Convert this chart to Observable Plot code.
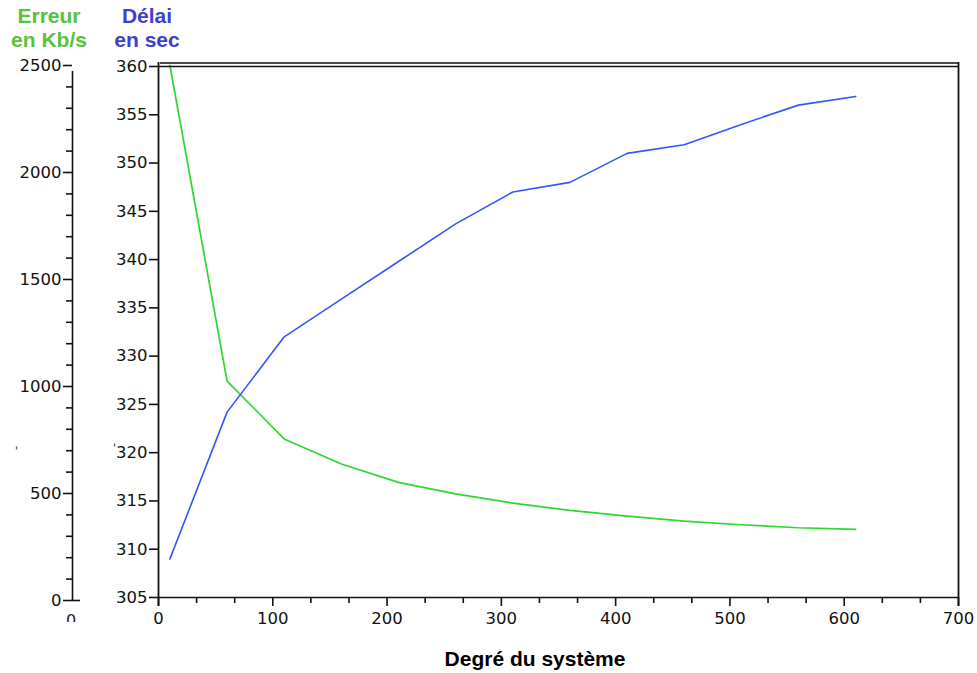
<!DOCTYPE html>
<html><head><meta charset="utf-8">
<script src="https://cdn.jsdelivr.net/npm/d3@7"></script>
<script src="https://cdn.jsdelivr.net/npm/@observablehq/plot@0.6"></script>
<style>
body{margin:0;background:#fff;}
#wrap{position:relative;width:977px;height:673px;overflow:hidden;}
#wrap svg{position:absolute;left:0;top:0;}
.lab{position:absolute;font-family:"Liberation Sans",Arial,sans-serif;font-weight:bold;font-size:21px;line-height:24px;text-align:center;white-space:nowrap;}
.art{position:absolute;font-family:"DejaVu Sans",sans-serif;font-size:12px;color:#333;}
</style></head><body>
<div id="wrap">
  <div class="lab" style="left:0;width:98px;top:4px;color:#55c33b">Erreur<br>en Kb/s</div>
  <div class="lab" style="left:106px;width:82px;top:4px;color:#4040cc">Délai<br>en sec</div>
  <div class="lab" style="left:358px;width:354px;top:647px;color:#000">Degré du système</div>
  <div class="art" style="left:15px;top:441px;transform:rotate(90deg)">-</div>
  <div class="art" style="left:113px;top:438px;transform:rotate(90deg)">-</div>
  <div class="art" style="left:66px;top:612px;height:10px;overflow:hidden;font-size:16px;line-height:18px;color:#222">0</div>
</div>
<script>
// Data
const degre  = [10, 60, 110, 160, 210, 260, 310, 360, 410, 460, 510, 560, 610];
const erreur = [2500, 1025, 755, 638, 552, 498, 455, 421, 394, 371, 354, 340, 332];   // Kb/s (left axis)
const delai  = [309.0, 324.2, 332.0, 335.9, 339.8, 343.7, 347.0, 348.0, 351.0, 351.9, 354.0, 356.0, 356.9]; // sec (right axis)

const xTicks = [0, 100, 200, 300, 400, 500, 600, 700];
const xMinor = d3.range(0, 700, 100).flatMap(v => [v + 100/3, v + 200/3]);
const erreurTicks = [0, 500, 1000, 1500, 2000, 2500];
const erreurMinor = d3.range(100, 2500, 100).filter(v => v % 500 !== 0);
const delaiTicks = d3.range(305, 361, 5);

const rows = degre.map((d, i) => ({degre: d, erreur: erreur[i], delai: delai[i]}));

const font = {fontFamily: "DejaVu Sans, sans-serif", fontSize: "16.5px", background: "transparent", overflow: "visible", color: "#111"};
const frame = {width: 977, height: 673, marginLeft: 158, marginRight: 19, marginTop: 66, marginBottom: 76};
const ink = "#111";
const fmt = d => String(d);
const blank = () => "";

// Plot A: Erreur (left outer axis)
const plotA = Plot.plot({
  ...frame,
  style: font,
  x: {domain: [0, 700], axis: null},
  y: {domain: [0, 2500], range: [600, 65], axis: null},
  marks: [
    Plot.ruleX([0], {y1: 0, y2: 2500, dx: -86, stroke: ink, strokeWidth: 1.6, insetBottom: -6}),
    Plot.axisY(erreurMinor, {anchor: "left", dx: -86, tickSize: 6, tickFormat: blank, label: null, stroke: ink, strokeWidth: 1.6}),
    Plot.axisY(erreurTicks, {anchor: "left", dx: -86, tickSize: 9, tickPadding: 2, tickFormat: fmt, label: null, stroke: ink, strokeWidth: 1.6, fill: ink}),
    Plot.axisY([0], {anchor: "left", dx: -78, tickSize: 8, tickFormat: blank, label: null, stroke: ink, strokeWidth: 1.6}),
    Plot.line(rows, {x: "degre", y: "erreur", stroke: "#2ed62e", strokeWidth: 1.7})
  ]
});

// Plot B: Délai (inner axis) + frame + x axis
const plotB = Plot.plot({
  ...frame,
  style: font,
  x: {domain: [0, 700], axis: null},
  y: {domain: [305, 360], axis: null},
  marks: [
    Plot.ruleY([360], {stroke: ink, strokeWidth: 1.3}),
    Plot.ruleY([360], {dy: -3.5, stroke: ink, strokeWidth: 1.3, insetLeft: 2}),
    Plot.ruleX([0], {stroke: ink, strokeWidth: 1.8, insetTop: -4, insetBottom: -9}),
    Plot.ruleX([700], {stroke: ink, strokeWidth: 1.8, insetTop: -4, insetBottom: -9}),
    Plot.ruleY([305], {stroke: ink, strokeWidth: 1.6}),
    Plot.axisY(delaiTicks, {anchor: "left", tickSize: 9, tickPadding: 2, tickFormat: fmt, label: null, stroke: ink, strokeWidth: 1.6, fill: ink}),
    Plot.axisX(xMinor, {anchor: "bottom", tickSize: 6, tickFormat: blank, label: null, stroke: ink, strokeWidth: 1.6}),
    Plot.axisX(xTicks, {anchor: "bottom", tickSize: 9, tickPadding: 6, tickFormat: fmt, label: null, stroke: ink, strokeWidth: 1.6, fill: ink}),
    Plot.line(rows, {x: "degre", y: "delai", stroke: "#3355ff", strokeWidth: 1.6})
  ]
});

const wrap = document.getElementById("wrap");
wrap.prepend(plotB);
wrap.prepend(plotA);
</script>
</body></html>
